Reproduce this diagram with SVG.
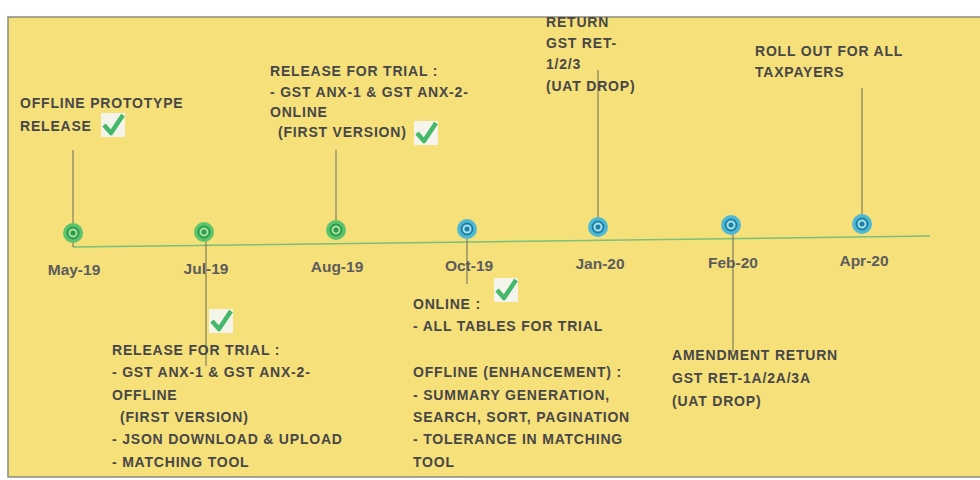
<svg xmlns="http://www.w3.org/2000/svg" width="980" height="480" viewBox="0 0 980 480">
<style>
.t{font-family:"Liberation Sans",Arial,sans-serif;font-weight:bold;font-size:14px;letter-spacing:0.8px;fill:#474747}
.d{font-family:"Liberation Sans",Arial,sans-serif;font-weight:bold;font-size:15.5px;fill:#5c5c5c;text-anchor:middle}
.v{stroke:#6b6b5a;stroke-width:1}
.g .o{fill:#5cc46c}
.g .m{fill:#a8dfa0;stroke:#2a9d48;stroke-width:2}
.g .i{fill:#2a9d48}
.b .o{fill:#4fb8d2}
.b .m{fill:#a9dfe6;stroke:#1a80a8;stroke-width:2}
.b .i{fill:#1a80a8}
</style>
<defs>
<g id="chk"><rect x="-12" y="-12" width="24" height="24" fill="#f4f4ea"/><path d="M-9,0 L-2,8 L10,-10" fill="none" stroke="#45b86c" stroke-width="4.5" stroke-linejoin="round"/></g>
</defs>
<rect x="0" y="0" width="980" height="480" fill="#ffffff"/>
<rect x="8" y="17" width="975" height="460" fill="#f6e07a" stroke="#8a8a80" stroke-width="1.5"/>
<g id="connectors">
<line x1="73" y1="247" x2="930" y2="236" stroke="#7cc07a" stroke-width="1.5"/>
<line class="v" x1="73" y1="150" x2="73" y2="247"/>
<line class="v" x1="336" y1="150" x2="336" y2="230"/>
<line class="v" x1="598" y1="70" x2="598" y2="227"/>
<line class="v" x1="862" y1="88" x2="862" y2="224"/>
<line class="v" x1="206" y1="232" x2="206" y2="366"/>
<line class="v" x1="467" y1="229" x2="467" y2="284"/>
<line class="v" x1="733" y1="225" x2="733" y2="352"/>
</g>
<g id="may19" class="g"><circle class="o" cx="73" cy="233" r="10"/><circle class="m" cx="73" cy="233" r="5.5"/><circle class="i" cx="73" cy="233" r="2.5"/><text class="d" x="74" y="275">May-19</text>
<text class="t" x="20" y="108">OFFLINE PROTOTYPE</text><text class="t" x="20" y="131">RELEASE</text><use href="#chk" x="113" y="125"/></g>
<g id="jul19" class="g"><circle class="o" cx="204" cy="232" r="10"/><circle class="m" cx="204" cy="232" r="5.5"/><circle class="i" cx="204" cy="232" r="2.5"/><text class="d" x="206" y="274">Jul-19</text>
<use href="#chk" x="221" y="321"/>
<text class="t" x="112" y="355">RELEASE FOR TRIAL :</text>
<text class="t" x="112" y="377">- GST ANX-1 &amp; GST ANX-2-</text>
<text class="t" x="112" y="400">OFFLINE</text>
<text class="t" x="120" y="422">(FIRST VERSION)</text>
<text class="t" x="112" y="444">- JSON DOWNLOAD &amp; UPLOAD</text>
<text class="t" x="112" y="467">- MATCHING TOOL</text></g>
<g id="aug19" class="g"><circle class="o" cx="336" cy="230" r="10"/><circle class="m" cx="336" cy="230" r="5.5"/><circle class="i" cx="336" cy="230" r="2.5"/><text class="d" x="337" y="272">Aug-19</text>
<text class="t" x="270" y="76">RELEASE FOR TRIAL :</text>
<text class="t" x="270" y="97">- GST ANX-1 &amp; GST ANX-2-</text>
<text class="t" x="270" y="117">ONLINE</text>
<text class="t" x="278" y="137">(FIRST VERSION)</text>
<use href="#chk" x="426" y="133"/></g>
<g id="oct19" class="b"><circle class="o" cx="467" cy="229" r="10"/><circle class="m" cx="467" cy="229" r="5.5"/><circle class="i" cx="467" cy="229" r="2.5"/><text class="d" x="469" y="271">Oct-19</text>
<use href="#chk" x="506" y="290"/>
<text class="t" x="413" y="309">ONLINE :</text>
<text class="t" x="413" y="331">- ALL TABLES FOR TRIAL</text>
<text class="t" x="413" y="377">OFFLINE (ENHANCEMENT) :</text>
<text class="t" x="413" y="400">- SUMMARY GENERATION,</text>
<text class="t" x="413" y="422">SEARCH, SORT, PAGINATION</text>
<text class="t" x="413" y="444">- TOLERANCE IN MATCHING</text>
<text class="t" x="413" y="467">TOOL</text></g>
<g id="jan20" class="b"><circle class="o" cx="598" cy="227" r="10"/><circle class="m" cx="598" cy="227" r="5.5"/><circle class="i" cx="598" cy="227" r="2.5"/><text class="d" x="600" y="269">Jan-20</text>
<text class="t" x="546" y="27">RETURN</text>
<text class="t" x="546" y="48">GST RET-</text>
<text class="t" x="546" y="69">1/2/3</text>
<text class="t" x="546" y="91">(UAT DROP)</text></g>
<g id="feb20" class="b"><circle class="o" cx="731" cy="225" r="10"/><circle class="m" cx="731" cy="225" r="5.5"/><circle class="i" cx="731" cy="225" r="2.5"/><text class="d" x="733" y="268">Feb-20</text>
<text class="t" x="672" y="360">AMENDMENT RETURN</text>
<text class="t" x="672" y="383">GST RET-1A/2A/3A</text>
<text class="t" x="672" y="406">(UAT DROP)</text></g>
<g id="apr20" class="b"><circle class="o" cx="862" cy="224" r="10"/><circle class="m" cx="862" cy="224" r="5.5"/><circle class="i" cx="862" cy="224" r="2.5"/><text class="d" x="864" y="266">Apr-20</text>
<text class="t" x="755" y="56">ROLL OUT FOR ALL</text>
<text class="t" x="755" y="77">TAXPAYERS</text></g>
</svg>
